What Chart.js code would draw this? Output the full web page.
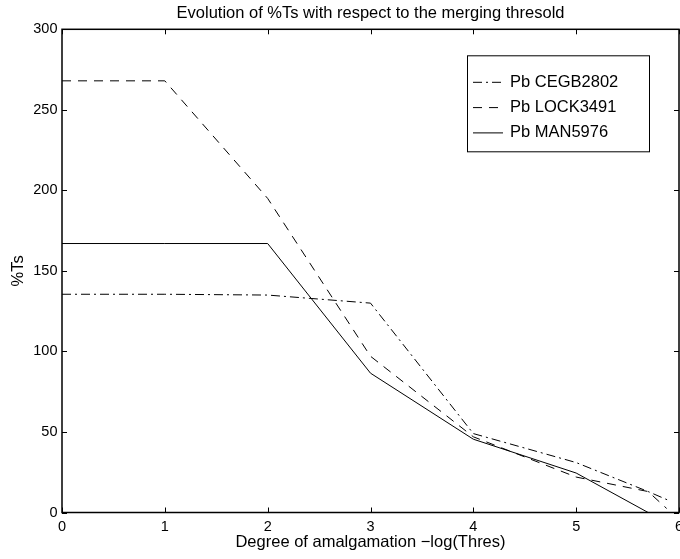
<!DOCTYPE html>
<html>
<head>
<meta charset="utf-8">
<script src="https://cdn.jsdelivr.net/npm/chart.js@4.4.0/dist/chart.umd.min.js"></script>
<style>
  html, body { margin: 0; padding: 0; background: #fff; overflow: hidden; }
  canvas { display: block; }
</style>
</head>
<body>
<canvas id="chart" width="680" height="559"></canvas>
<script>
// values
const seriesNames = ['Pb CEGB2802', 'Pb LOCK3491', 'Pb MAN5976'];

const xCEGB = [0, 1, 2, 3, 4, 5, 5.7, 5.9];
const yCEGB = [135.5, 135.5, 135, 130, 49, 31, 13, 7.5];

const xLOCK = [0, 1, 2, 3, 4, 5, 5.7, 5.88];
const yLOCK = [268, 268, 195, 97, 47, 22, 13, 2.5];

const xMAN = [0, 1, 2, 3, 4, 5, 5.7];
const yMAN = [167, 167, 167, 86.5, 45.5, 24.5, 0];

const FONT = 'Liberation Sans, Arial, Helvetica, sans-serif';

// x/y の配列を点データにまとめる
function toPoints(xs, ys) {
    return xs.map((x, i) => ({ x: x, y: ys[i] }));
}

// 枠と内向きの目盛り（MATLAB 風）
const boxTicks = {
    id: 'boxTicks',
    afterDraw(chart) {
        const { ctx, chartArea: a, scales } = chart;
        const len = 5;
        ctx.save();
        ctx.strokeStyle = '#000';
        ctx.lineWidth = 1;
        scales.x.ticks.forEach(t => {
            const px = Math.round(scales.x.getPixelForValue(t.value)) + 0.5;
            ctx.beginPath();
            ctx.moveTo(px, a.bottom); ctx.lineTo(px, a.bottom - len);
            ctx.moveTo(px, a.top); ctx.lineTo(px, a.top + len);
            ctx.stroke();
        });
        scales.y.ticks.forEach(t => {
            const py = Math.round(scales.y.getPixelForValue(t.value)) + 0.5;
            ctx.beginPath();
            ctx.moveTo(a.left, py); ctx.lineTo(a.left + len, py);
            ctx.moveTo(a.right, py); ctx.lineTo(a.right - len, py);
            ctx.stroke();
        });
        ctx.lineWidth = 1.5;
        ctx.strokeRect(a.left, a.top, a.right - a.left, a.bottom - a.top);
        ctx.restore();
    }
};

// 枠付きの凡例を右上に描く
const boxLegend = {
    id: 'boxLegend',
    afterDraw(chart) {
        const { ctx, chartArea: a } = chart;
        const w = 182, h = 96;
        const left = a.right - 30 - w;
        const top = a.top + 26;
        ctx.save();
        ctx.fillStyle = '#fff';
        ctx.fillRect(left, top, w, h);
        ctx.strokeStyle = '#000';
        ctx.lineWidth = 1;
        ctx.strokeRect(left + 0.5, top + 0.5, w, h);
        ctx.font = '16.5px ' + FONT;
        ctx.textBaseline = 'middle';
        chart.data.datasets.forEach((ds, i) => {
            const y = top + 27 + i * 25.3;
            ctx.setLineDash(ds.borderDash || []);
            ctx.lineWidth = 1;
            ctx.beginPath();
            ctx.moveTo(left + 6, y); ctx.lineTo(left + 36, y);
            ctx.stroke();
            ctx.setLineDash([]);
            ctx.fillStyle = '#000';
            ctx.fillText(ds.label, left + 43, y);
        });
        ctx.restore();
    }
};

const ctx = document.getElementById('chart').getContext('2d');
new Chart(ctx, {
    type: 'line',
    data: {
        datasets: [
            { label: seriesNames[0], data: toPoints(xCEGB, yCEGB), borderDash: [9, 4, 2, 4] },
            { label: seriesNames[1], data: toPoints(xLOCK, yLOCK), borderDash: [9, 7] },
            { label: seriesNames[2], data: toPoints(xMAN, yMAN), borderDash: [] }
        ].map(d => Object.assign(d, {
            borderColor: '#000',
            borderWidth: 1,
            pointRadius: 0,
            tension: 0,
            fill: false
        }))
    },
    options: {
        responsive: false,
        animation: false,
        devicePixelRatio: 1,
        layout: { padding: 0 },
        scales: {
            x: {
                type: 'linear',
                min: 0, max: 6,
                grid: { display: false, drawTicks: false },
                border: { display: false },
                ticks: { stepSize: 1, padding: 6, color: '#000', font: { size: 14.5, family: FONT } },
                title: {
                    display: true,
                    text: 'Degree of amalgamation \u2212log(Thres)',
                    color: '#000',
                    font: { size: 16.5, family: FONT },
                    padding: { top: 0, bottom: 6.5 }
                },
                afterFit: s => { s.height = 46.5; s.paddingRight = 1; }
            },
            y: {
                min: 0, max: 300,
                grid: { display: false, drawTicks: false },
                border: { display: false },
                ticks: { stepSize: 50, padding: 4.5, color: '#000', font: { size: 14.5, family: FONT } },
                title: {
                    display: true,
                    text: '%Ts',
                    color: '#000',
                    font: { size: 16.5, family: FONT },
                    padding: { top: 9, bottom: 0 }
                },
                afterFit: s => { s.width = 62; }
            }
        },
        plugins: {
            legend: { display: false },
            tooltip: { enabled: false },
            title: {
                display: true,
                fullSize: false,
                text: 'Evolution of %Ts with respect to the merging thresold',
                color: '#000',
                font: { size: 16.5, family: FONT, weight: 'normal' },
                padding: { top: 3.7, bottom: 5.8 }
            }
        }
    },
    plugins: [boxTicks, boxLegend]
});
</script>
</body>
</html>
